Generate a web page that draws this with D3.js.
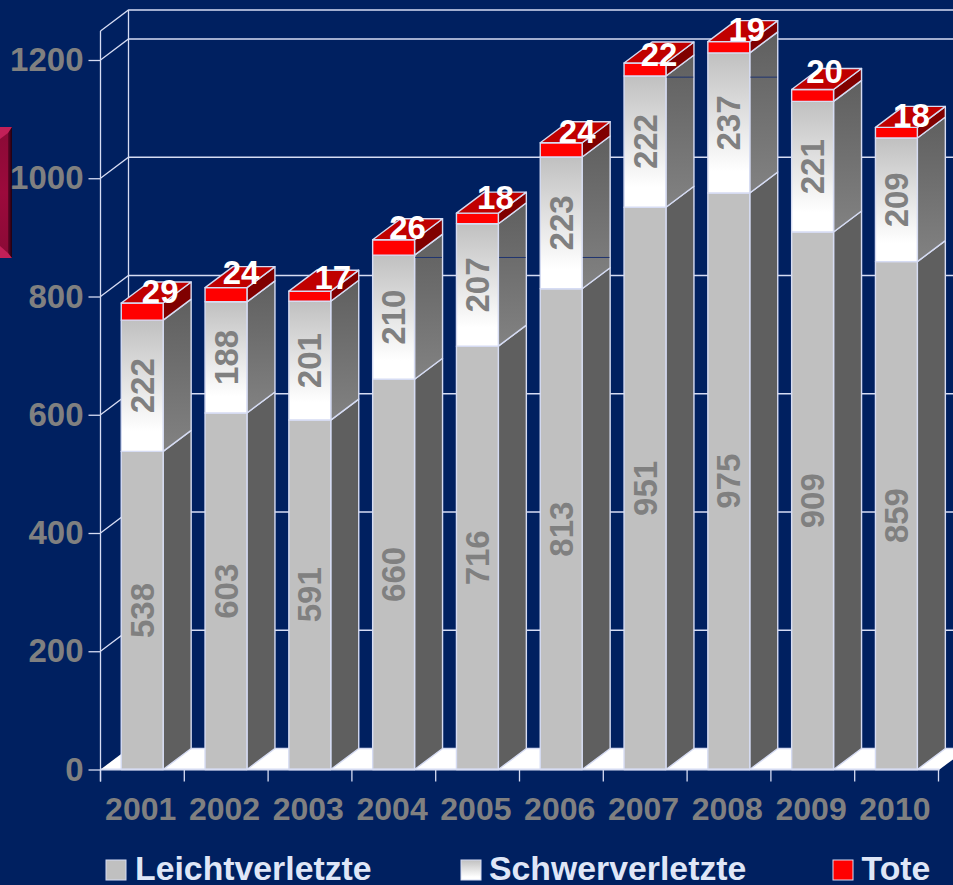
<!DOCTYPE html>
<html><head><meta charset="utf-8">
<script src="https://d3js.org/d3.v7.min.js"></script>
<style>html,body{margin:0;padding:0;background:#002060;overflow:hidden}svg{display:block}</style>
</head><body><svg id="c" width="953" height="885"></svg>
<script>
const years = ["2001","2002","2003","2004","2005","2006","2007","2008","2009","2010"];
const leicht = [538,603,591,660,716,813,951,975,909,859];
const schwer = [222,188,201,210,207,223,222,237,221,209];
const tote = [29,24,17,26,18,24,22,19,20,18];
const yTicks = [0,200,400,600,800,1000,1200];
const legendLabels = ["Leichtverletzte","Schwerverletzte","Tote"];

// layout only: nudges of the white labels, as placed in the original
const toteNudgeX = [18,15,23,14,18,16,14,18,12,15];
const toteNudgeY = [-12,-15.6,-14,-12.7,-16,-11.7,-8,-12.6,-18.5,-12];

const W=953,H=885,LINE="#d6dcf3",GRAY="#808080",FONT="'Liberation Sans',Arial,sans-serif";
const DX=28,DY=-21;
const svg=d3.select("#c");
const x=d3.scaleBand().domain(years).range([100.3,938.3]).paddingInner(0.5).paddingOuter(0.25);
const y=d3.scaleLinear().domain([0,1200]).range([769.5,60]);
const yTop=y.invert(31);

const defs=svg.append("defs");
function lin(id,stops,horizontal){const g=defs.append("linearGradient").attr("id",id).attr("x1",0).attr("y1",0).attr("x2",horizontal?1:0).attr("y2",horizontal?0:1);
  stops.forEach(s=>g.append("stop").attr("offset",s[0]).attr("stop-color",s[1]));}
lin("front",[[0,"#c0c0c0"],[0.85,"#ffffff"],[1,"#ffffff"]]);
lin("side",[[0,"#5f5f5f"],[1,"#828282"]]);
lin("box",[[0,"#8a0a36"],[0.5,"#9c0a3c"],[1,"#8a0a36"]]);
lin("boxEdge",[[0,"#6a0628"],[1,"#1c0010"]],true);

svg.append("rect").attr("width",W).attr("height",H).attr("fill","#002060");
const poly=(pts)=>pts.map(p=>p.join(",")).join(" ");

// decorative box at the left edge
svg.append("rect").attr("x",0).attr("y",127).attr("width",12).attr("height",131).attr("fill","url(#box)");
svg.append("rect").attr("x",8).attr("y",127).attr("width",4).attr("height",131).attr("fill","url(#boxEdge)");
svg.append("polygon").attr("points",poly([[0,127],[12,127],[8,133],[0,139]])).attr("fill","#c22058");
svg.append("polygon").attr("points",poly([[0,258],[12,258],[8,253],[0,246]])).attr("fill","#c22058");

// floor
const x0=100.5,x1=939.5,yb=y(0);
svg.append("polygon").attr("points",poly([[x0,yb],[x0+DX,yb+DY],[x1+DX,yb+DY],[x1,yb]])).attr("fill","#fff");
svg.append("line").attr("x1",x0+DX).attr("x2",W).attr("y1",yb+DY).attr("y2",yb+DY).attr("stroke",LINE).attr("stroke-width",1.3);

// walls and gridlines
const grid=svg.append("g").attr("fill","none").attr("stroke",LINE).attr("stroke-width",1.3);
const wallVals=yTicks.filter(d=>d>0).concat([yTop]);
wallVals.forEach(v=>{
  grid.append("path").attr("d",`M${x0},${y(v)}L${x0+DX},${y(v)+DY}L${W+5},${y(v)+DY}`);
});
grid.append("line").attr("x1",x0).attr("x2",x0).attr("y1",y(yTop)).attr("y2",yb+12);
grid.append("line").attr("x1",x0+DX).attr("x2",x0+DX).attr("y1",y(yTop)+DY).attr("y2",yb+DY);

// bars
const series=[
 {vals:leicht,front:"#c0c0c0",side:"#5f5f5f",top:"#c0c0c0"},
 {vals:schwer,front:"url(#front)",side:"url(#side)",top:"#c0c0c0"},
 {vals:tote,front:"#ff0000",side:"#800000",top:"#c00000"}
];
const bars=svg.append("g");
const darkSpans=[[3,5,866],[6,7,1171]];
years.forEach((yr,i)=>{
  const g=bars.append("g");
  const l=x(yr),w=x.bandwidth(),r=l+w;
  let base=0;
  series.forEach((s,k)=>{
    const a=y(base),b=y(base+s.vals[i]);
    base+=s.vals[i];
    const st={stroke:LINE,"stroke-width":1.4,"stroke-linejoin":"round"};
    const sidePoly=g.append("polygon").attr("points",poly([[r,a],[r+DX,a+DY],[r+DX,b+DY],[r,b]])).attr("fill",s.side);
    const front=g.append("rect").attr("x",l).attr("y",b).attr("width",w).attr("height",a-b).attr("fill",s.front);
    [sidePoly,front].forEach(e=>Object.entries(st).forEach(([n,v])=>e.attr(n,v)));
    if(k===2){
      const t=g.append("polygon").attr("points",poly([[l,b],[l+DX,b+DY],[r+DX,b+DY],[r,b]])).attr("fill",s.top);
      Object.entries(st).forEach(([n,v])=>t.attr(n,v));
    }
  });
  darkSpans.filter(d=>i>=d[0]&&i<=d[1]).forEach(d=>{
    g.append("line").attr("x1",r+0.7).attr("x2",r+DX-0.7).attr("y1",y(d[2])).attr("y2",y(d[2])).attr("stroke","#1f3470").attr("stroke-width",1);
  });
});

// value labels
const labels=svg.append("g").attr("font-family",FONT).attr("font-weight","bold").attr("font-size",33);
years.forEach((yr,i)=>{
  const cx=x(yr)+x.bandwidth()/2;
  const mids=[y(leicht[i]/2),y(leicht[i]+schwer[i]/2)];
  [leicht[i],schwer[i]].forEach((v,k)=>{
    labels.append("text").text(v).attr("fill",GRAY).attr("text-anchor","middle").attr("dominant-baseline","central")
      .attr("transform",`translate(${cx},${mids[k]}) rotate(-90)`);
  });
  const top=y(leicht[i]+schwer[i]+tote[i]);
  labels.append("text").text(tote[i]).attr("fill","#fff").attr("text-anchor","middle").attr("dominant-baseline","central")
    .attr("x",cx+toteNudgeX[i]).attr("y",top+toteNudgeY[i]);
});

// axes
const yAxis=d3.axisLeft(y).tickValues(yTicks).tickSize(12).tickPadding(5).tickFormat(d3.format("d"));
const ya=svg.append("g").attr("transform",`translate(${x0},0)`).call(yAxis);
ya.select(".domain").remove();
ya.selectAll("line").attr("stroke",LINE).attr("stroke-width",1.3);
ya.selectAll("text").attr("fill",GRAY).attr("font-family",FONT).attr("font-weight","bold").attr("font-size",33);

svg.append("line").attr("x1",x0).attr("x2",x1).attr("y1",yb).attr("y2",yb).attr("stroke",LINE).attr("stroke-width",2);
const xAxis=d3.axisBottom(x).tickSize(0).tickPadding(28);
const xa=svg.append("g").attr("transform",`translate(-1.5,${yb})`).call(xAxis);
xa.select(".domain").remove();
xa.selectAll("text").attr("fill",GRAY).attr("font-family",FONT).attr("font-weight","bold").attr("font-size",32);
const tickG=svg.append("g").attr("stroke",LINE).attr("stroke-width",1.3);
d3.range(0,years.length+1).forEach(i=>{
  const tx=x0+i*x.step();
  tickG.append("line").attr("x1",tx).attr("x2",tx).attr("y1",yb).attr("y2",yb+12);
});

// legend
const legendX=[106,461,833],legendText=[135,489,861.5],swatches=["#c0c0c0","url(#front)","#ff0000"];
legendLabels.forEach((t,i)=>{
  svg.append("rect").attr("x",legendX[i]).attr("y",860).attr("width",20).attr("height",20)
    .attr("fill",swatches[i]).attr("stroke",LINE).attr("stroke-width",1);
  svg.append("text").text(t).attr("x",legendText[i]).attr("y",880).attr("fill","#dfe6f7")
    .attr("font-family",FONT).attr("font-weight","bold").attr("font-size",33.8);
});
</script></body></html>
